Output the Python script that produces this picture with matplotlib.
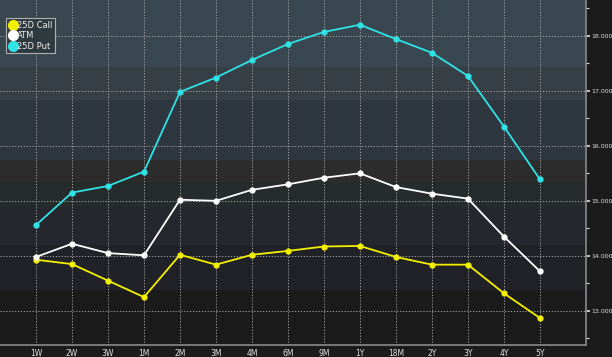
import matplotlib.pyplot as plt
import matplotlib.patches as mpatches
from matplotlib.ticker import MultipleLocator, FormatStrFormatter
from matplotlib.lines import Line2D

# tenors and vols
tenors = ['1W', '2W', '3W', '1M', '2M', '3M', '4M', '6M', '9M', '1Y', '18M', '2Y', '3Y', '4Y', '5Y']
call_25d = [13.93, 13.85, 13.55, 13.25, 14.02, 13.84, 14.02, 14.09, 14.17, 14.18, 13.98, 13.84, 13.84, 13.32, 12.87]
atm = [13.98, 14.22, 14.05, 14.01, 15.02, 15.00, 15.20, 15.30, 15.42, 15.50, 15.25, 15.13, 15.04, 14.35, 13.72]
put_25d = [14.56, 15.15, 15.27, 15.53, 16.98, 17.24, 17.56, 17.85, 18.07, 18.20, 17.94, 17.69, 17.27, 16.35, 15.39]

BG = '#1b1b1b'
fig = plt.figure(figsize=(6.12, 3.57), dpi=100, facecolor=BG)
ax = fig.add_axes([0.0, 12 / 357, 586 / 612, 345 / 357])
ax.set_facecolor(BG)

# background bands (pixel rows from top of plot area, colour)
bands = [(0, 67, '#394850'), (67, 100, '#363f46'), (100, 160, '#2e3640'),
         (160, 182, '#2c2c2c'), (182, 207, '#262c2b'), (207, 245, '#25262e'),
         (245, 290, '#212128'), (290, 345, '#1b1b1b')]
for top, bot, c in bands:
    ax.add_patch(mpatches.Rectangle((0, 1 - bot / 345), 1, (bot - top) / 345,
                                    transform=ax.transAxes, color=c, zorder=0, lw=0))

x = list(range(len(tenors)))
ax.plot(x, call_25d, color='#f2f000', lw=1.3, marker='o', ms=3.5, zorder=3)
ax.plot(x, atm, color='#ffffff', lw=1.3, marker='o', ms=3.5, zorder=3)
ax.plot(x, put_25d, color='#2fe3e6', lw=1.3, marker='o', ms=3.5, zorder=3)

ax.set_xlim(-1, 15.28)
ax.set_ylim(12.38, 18.65)
ax.set_xticks(x)
ax.set_xticklabels(tenors)
ax.yaxis.tick_right()
ax.yaxis.set_major_locator(MultipleLocator(1))
ax.yaxis.set_minor_locator(MultipleLocator(0.5))
ax.yaxis.set_major_formatter(FormatStrFormatter('%.3f'))
ax.grid(True, which='major', color='#a8a8a8', ls=(0, (1.2, 1.8)), lw=0.7, zorder=1)

ax.tick_params(axis='x', length=0, pad=3, labelsize=5.5, labelcolor='#e0e0e0')
ax.tick_params(axis='y', which='major', length=3, width=1.2, color='#e0e0e0',
               pad=0.5, labelsize=4.5, labelcolor='#e0e0e0')
ax.tick_params(axis='y', which='minor', length=2.5, width=0.8, color='#e0e0e0')

for s in ['top', 'left']:
    ax.spines[s].set_visible(False)
for s in ['bottom', 'right']:
    ax.spines[s].set_color('#8a8a8a')
    ax.spines[s].set_linewidth(1.2)

handles = [Line2D([], [], ls='none', marker='o', ms=7, color=c)
           for c in ['#f2f000', '#ffffff', '#2fe3e6']]
leg = ax.legend(handles, ['25D Call', 'ATM', '25D Put'], loc='upper left',
                bbox_to_anchor=(6 / 586, 1 - 18 / 345), fontsize=6,
                handletextpad=0.0, handlelength=1.0, borderpad=0.3,
                labelspacing=0.2, borderaxespad=0, fancybox=False,
                facecolor='#2f3a40', edgecolor='#b0b0b0', framealpha=1,
                labelcolor='#f0f0f0')
leg.get_frame().set_linewidth(0.8)

fig.savefig('out.png', dpi=100, facecolor=BG)
